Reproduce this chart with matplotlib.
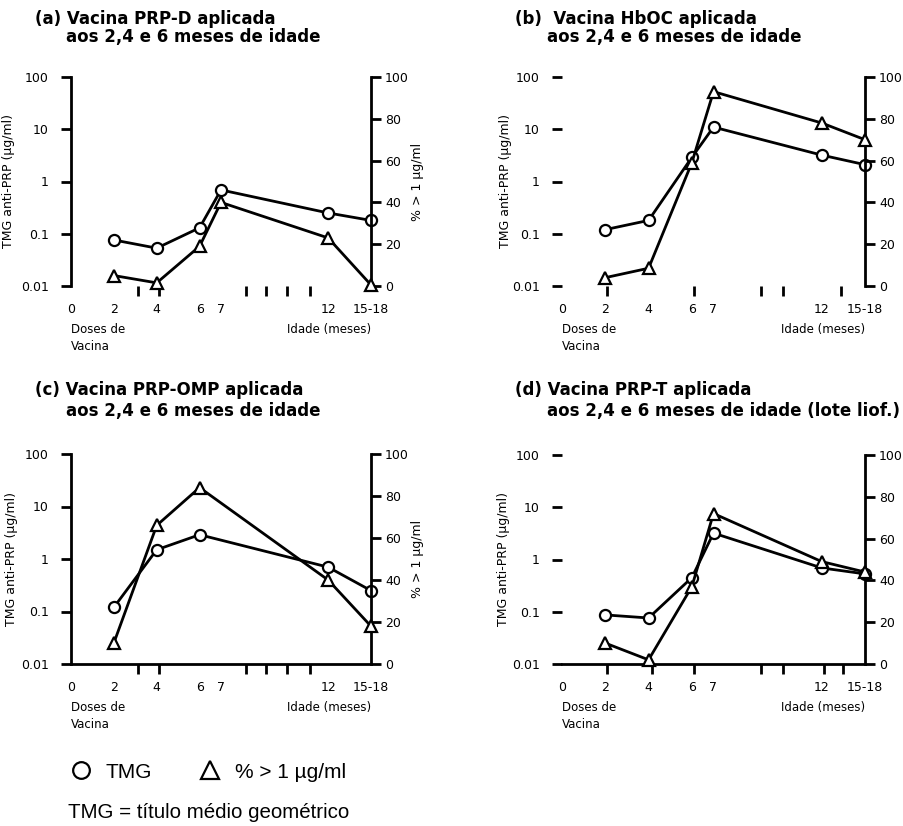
import matplotlib.pyplot as plt
from matplotlib.lines import Line2D
from matplotlib.ticker import FixedLocator, NullLocator

plt.rcParams['font.family'] = ['DejaVu Sans']

# posição no eixo x (o ponto "15-18 meses" fica na posição 14)
meses = [2, 4, 6, 7, 12, 14]
meses_c = [2, 4, 6, 12, 14]
rotulos_x = ['0', '2', '4', '6', '7', '12', '15-18']
pos_rotulos_x = [0, 2, 4, 6, 7, 12, 14]

# (a) PRP-D
tmg_a = [0.076, 0.053, 0.13, 0.69, 0.25, 0.18]
pct_a = [5, 1.5, 19, 40, 23, 0.5]
# (b) HbOC
tmg_b = [0.12, 0.18, 2.9, 11, 3.2, 2.1]
pct_b = [4, 8.5, 59, 93, 78, 70]
# (c) PRP-OMP
tmg_c = [0.12, 1.5, 2.9, 0.7, 0.25]
pct_c = [10, 66, 84, 40, 18]
# (d) PRP-T
tmg_d = [0.087, 0.076, 0.45, 3.2, 0.69, 0.53]
pct_d = [10, 2, 37, 72, 49, 44]

# ticks menores do eixo x
ticks_ac = [3.15, 4.1, 8.15, 9.1, 10.1, 11.15]
ticks_b = [2.1, 6.1, 9.2, 10.2, 12, 12.9]
ticks_d = [2.1, 4.15, 6.1, 9.2, 10.2, 12.1, 13.0]

titulos = [
    ('(a) Vacina PRP-D aplicada', 'aos 2,4 e 6 meses de idade'),
    ('(b)  Vacina HbOC aplicada', 'aos 2,4 e 6 meses de idade'),
    ('(c) Vacina PRP-OMP aplicada', 'aos 2,4 e 6 meses de idade'),
    ('(d) Vacina PRP-T aplicada', 'aos 2,4 e 6 meses de idade (lote liof.)'),
]

fig = plt.figure(figsize=(9.04, 8.26), dpi=100)
W, H = 904, 826


def caixa(x0, x1, y0, y1):
    return [x0 / W, 1 - y1 / H, (x1 - x0) / W, (y1 - y0) / H]


def painel(pos, x, tmg, pct, ticks, esq, baixo, lab_esq_x, lab_dir):
    ax = fig.add_axes(pos)
    ax2 = ax.twinx()

    ax.plot(x, tmg, color='black', lw=2, marker='o', ms=8, mfc='white',
            mec='black', mew=1.6, clip_on=False, zorder=3)
    ax2.plot(x, pct, color='black', lw=2, marker='^', ms=9, mfc='white',
             mec='black', mew=1.6, clip_on=False, zorder=3)

    ax.set_yscale('log')
    ax.set_ylim(0.01, 100)
    ax.set_xlim(0, 14)
    ax.yaxis.set_major_locator(FixedLocator([0.01, 0.1, 1, 10, 100]))
    ax.set_yticklabels(['0.01', '0.1', '1', '10', '100'])
    ax.yaxis.set_minor_locator(NullLocator())
    ax2.set_ylim(0, 100)
    ax2.set_yticks([0, 20, 40, 60, 80, 100])

    ax.set_xticks(pos_rotulos_x)
    ax.set_xticklabels(rotulos_x)
    ax.set_xticks(ticks, minor=True)
    ax.tick_params(axis='x', which='major', length=0, pad=12, labelsize=9)
    ax.tick_params(axis='x', which='minor', length=7, width=2, direction='out')
    ax.tick_params(axis='y', which='major', length=7, width=2, pad=9, labelsize=9)
    ax2.tick_params(axis='y', length=7, width=2, pad=3, labelsize=9)

    for s in ['top', 'right']:
        ax.spines[s].set_visible(False)
    for s in ['top', 'left', 'bottom']:
        ax2.spines[s].set_visible(False)
    ax2.spines['right'].set_linewidth(2)
    ax.spines['left'].set_linewidth(2)
    ax.spines['bottom'].set_linewidth(2)
    ax.spines['left'].set_visible(esq)
    ax.spines['bottom'].set_visible(baixo)

    ax.set_ylabel('TMG anti-PRP (µg/ml)', fontsize=9)
    ax.yaxis.set_label_coords(lab_esq_x, 0.5)
    if lab_dir:
        ax2.set_ylabel('% > 1 µg/ml', fontsize=9)
        ax2.yaxis.set_label_coords(1.135, 0.5)

    ax.text(0, -0.175, 'Doses de\nVacina', transform=ax.transAxes,
            ha='left', va='top', fontsize=8.5, linespacing=1.4)
    ax.text(1.0, -0.175, 'Idade (meses)', transform=ax.transAxes,
            ha='right', va='top', fontsize=8.5)
    return ax, ax2


painel(caixa(71, 371, 77, 286), meses, tmg_a, pct_a, ticks_ac,
       True, False, -0.187, True)
painel(caixa(562, 865, 77, 286), meses, tmg_b, pct_b, ticks_b,
       False, False, -0.165, False)
painel(caixa(71, 371, 454, 664), meses_c, tmg_c, pct_c, ticks_ac,
       True, True, -0.177, True)
painel(caixa(562, 865, 455, 664), meses, tmg_d, pct_d, ticks_d,
       False, True, -0.172, False)

# títulos
pos_tit = [(35, 66, 19, 37), (515, 547, 19, 37),
           (35, 66, 390, 411), (515, 547, 390, 411)]
for (t1, t2), (x1, x2, y1, y2) in zip(titulos, pos_tit):
    fig.text(x1 / W, 1 - y1 / H, t1, fontsize=12, fontweight='bold', va='center')
    fig.text(x2 / W, 1 - y2 / H, t2, fontsize=12, fontweight='bold', va='center')

# legenda
h1 = Line2D([], [], ls='none', marker='o', ms=12, mfc='white', mec='black', mew=1.6)
h2 = Line2D([], [], ls='none', marker='^', ms=13, mfc='white', mec='black', mew=1.6)
fig.legend([h1, h2], ['TMG', '% > 1 µg/ml'], loc='center left',
           bbox_to_anchor=(68 / W, 1 - 772 / H), ncol=2, frameon=False,
           borderpad=0, borderaxespad=0, handlelength=1.2,
           columnspacing=2.2, handletextpad=0.6,
           prop={'family': 'Liberation Sans', 'size': 15})

fig.text(68 / W, 1 - 812 / H, 'TMG = título médio geométrico',
         fontsize=14.8, family='Liberation Sans', va='center')

fig.savefig('out.png', dpi=100)
